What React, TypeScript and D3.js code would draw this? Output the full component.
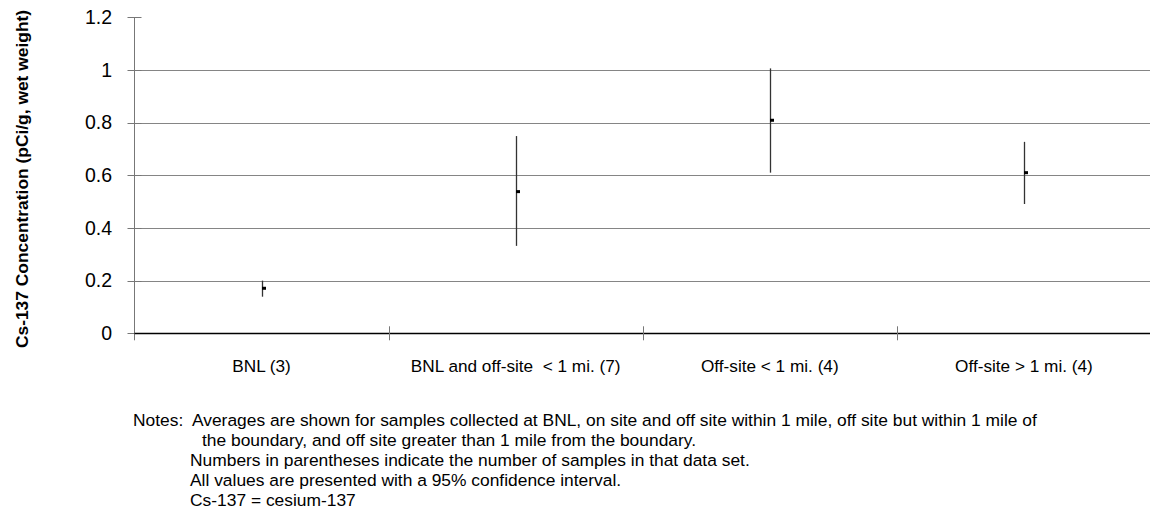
import { useRef, useEffect } from "react";
import * as d3 from "d3";

const categories = [
  "BNL (3)",
  "BNL and off-site  < 1 mi. (7)",
  "Off-site < 1 mi. (4)",
  "Off-site > 1 mi. (4)",
];
const means = [0.171, 0.538, 0.809, 0.61];
const lower = [0.139, 0.332, 0.61, 0.491];
const upper = [0.2, 0.749, 1.006, 0.727];
const yTicks = [0, 0.2, 0.4, 0.6, 0.8, 1, 1.2];
const notes = [
  "Notes:  Averages are shown for samples collected at BNL, on site and off site within 1 mile, off site but within 1 mile of",
  "the boundary, and off site greater than 1 mile from the boundary.",
  "Numbers in parentheses indicate the number of samples in that data set.",
  "All values are presented with a 95% confidence interval.",
  "Cs-137 = cesium-137",
];

const FONT = '"Liberation Sans", Arial, sans-serif';

export default function App() {
  const svgRef = useRef<SVGSVGElement>(null);

  useEffect(() => {
    if (!svgRef.current) return;
    const svg = d3.select(svgRef.current);
    svg.selectAll("*").remove();

    const width = 1150;
    const height = 527;
    const left = 134.5;
    const right = 1151;
    const top = 17.3;
    const bottom = 333.3;

    const x = d3.scaleBand().domain(categories).range([left, right]);
    const y = d3.scaleLinear().domain([0, 1.2]).range([bottom, top]);

    svg.attr("viewBox", `0 0 ${width} ${height}`);

    // Grid
    svg
      .append("g")
      .selectAll("line")
      .data(yTicks.filter((d) => d > 0 && d < 1.2))
      .join("line")
      .attr("x1", left)
      .attr("x2", right)
      .attr("y1", (d) => Math.round(y(d)) + 0.5)
      .attr("y2", (d) => Math.round(y(d)) + 0.5)
      .attr("stroke", "#858585")
      .attr("stroke-width", 1);

    // Y axis
    const ya = svg.append("g").attr("transform", `translate(${left},0)`);
    ya.append("line")
      .attr("y1", top)
      .attr("y2", bottom + 7)
      .attr("stroke", "#777")
      .attr("stroke-width", 1);
    ya.selectAll("line.tick")
      .data(yTicks)
      .join("line")
      .attr("class", "tick")
      .attr("x1", -7)
      .attr("x2", 7)
      .attr("y1", (d) => Math.round(y(d)) + 0.5)
      .attr("y2", (d) => Math.round(y(d)) + 0.5)
      .attr("stroke", "#777");
    ya.selectAll("text")
      .data(yTicks)
      .join("text")
      .attr("x", -22.5)
      .attr("y", (d) => y(d))
      .attr("dy", "0.35em")
      .attr("text-anchor", "end")
      .attr("font-family", FONT)
      .attr("font-size", "19.5px")
      .attr("fill", "#000")
      .text((d) => String(d));

    // X axis
    svg
      .append("line")
      .attr("x1", left)
      .attr("x2", right)
      .attr("y1", Math.round(bottom) + 0.5)
      .attr("y2", Math.round(bottom) + 0.5)
      .attr("stroke", "#000")
      .attr("stroke-width", 1.3);
    const bounds = categories.map((c) => x(c)!).concat([right]).slice(1);
    svg
      .append("g")
      .selectAll("line")
      .data(bounds)
      .join("line")
      .attr("x1", (d) => Math.round(d) + 0.5)
      .attr("x2", (d) => Math.round(d) + 0.5)
      .attr("y1", bottom - 7)
      .attr("y2", bottom + 7)
      .attr("stroke", "#777");
    svg
      .append("g")
      .selectAll("text")
      .data(categories)
      .join("text")
      .attr("x", (d) => x(d)! + x.bandwidth() / 2)
      .attr("y", 372)
      .attr("text-anchor", "middle")
      .attr("font-family", FONT)
      .attr("font-size", "17.2px")
      .attr("fill", "#000")
      .style("white-space", "pre")
      .text((d) => d);

    // Error bars and means
    const cx = (i: number) => Math.round(x(categories[i])! + x.bandwidth() / 2) + 0.5;
    svg
      .append("g")
      .selectAll("line")
      .data(means)
      .join("line")
      .attr("x1", (_, i) => cx(i))
      .attr("x2", (_, i) => cx(i))
      .attr("y1", (_, i) => y(upper[i]))
      .attr("y2", (_, i) => y(lower[i]))
      .attr("stroke", "#333")
      .attr("stroke-width", 1.3);
    svg
      .append("g")
      .selectAll("rect")
      .data(means)
      .join("rect")
      .attr("x", (_, i) => cx(i) - 0.5)
      .attr("y", (d) => y(d) - 1.5)
      .attr("width", 4)
      .attr("height", 3)
      .attr("fill", "#000");

    // Y title
    svg
      .append("text")
      .attr("transform", `translate(28,179) rotate(-90)`)
      .attr("text-anchor", "middle")
      .attr("font-family", FONT)
      .attr("font-weight", "bold")
      .attr("font-size", "17.4px")
      .attr("fill", "#000")
      .text("Cs-137 Concentration (pCi/g, wet weight)");

    // Notes
    const noteX = [133, 202, 190, 190, 190];
    svg
      .append("g")
      .selectAll("text")
      .data(notes)
      .join("text")
      .attr("x", (_, i) => noteX[i])
      .attr("y", (_, i) => 425.7 + i * 20)
      .attr("font-family", FONT)
      .attr("font-size", "17.4px")
      .attr("fill", "#000")
      .style("white-space", "pre")
      .text((d) => d);
  }, []);

  return (
    <svg
      ref={svgRef}
      width={1150}
      height={527}
      style={{ position: "absolute", left: 0, top: 0, background: "#fff" }}
    />
  );
}
